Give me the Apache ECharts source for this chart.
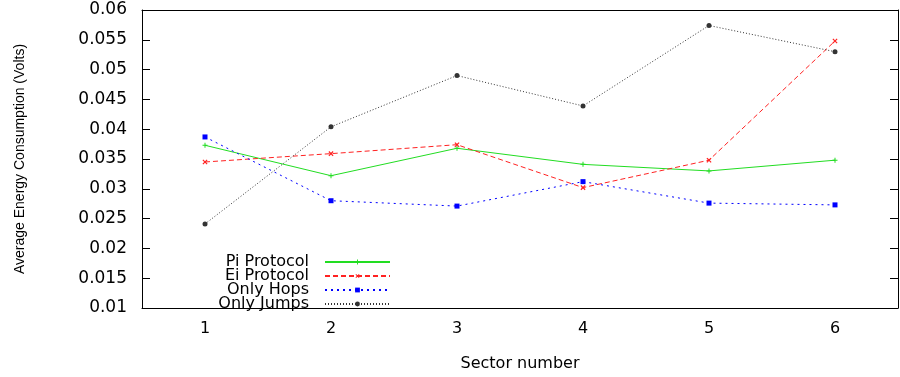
<!DOCTYPE html>
<html>
<head>
<meta charset="utf-8">
<title>Average Energy Consumption per Sector</title>
<script src="https://cdn.jsdelivr.net/npm/echarts@6/dist/echarts.min.js"></script>
<style>
  html, body { margin: 0; padding: 0; background: #fff; }
  #chart { width: 900px; height: 377px; }
</style>
</head>
<body>
<div id="chart"></div>
<script>
// Sector numbers on the x axis
const sectors = ['1', '2', '3', '4', '5', '6'];

// Average energy consumption (Volts) per sector for each protocol
const piProtocol = [0.0373, 0.0322, 0.0368, 0.0341, 0.0330, 0.0348];
const eiProtocol = [0.0345, 0.0359, 0.0374, 0.0302, 0.0348, 0.0548];
const onlyHops   = [0.0387, 0.0280, 0.0271, 0.0312, 0.0276, 0.0273];
const onlyJumps  = [0.0241, 0.0404, 0.0490, 0.0439, 0.0574, 0.0530];

const seriesNames = ['Pi Protocol', 'Ei Protocol', 'Only Hops', 'Only Jumps'];

// Y axis range and step
const yMin = 0.01, yMax = 0.06, yStep = 0.005;

const FONT = 'DejaVu Sans';
const plusPath = 'path://M4,0h2v4h4v2h-4v4h-2v-4h-4v-2h4z';

// One legend per row so the names stay right-aligned against their line samples
function legendFor(name, rowCenter) {
  return {
    data: [name],
    right: 509,
    top: rowCenter - 7,
    orient: 'vertical',
    align: 'right',
    padding: 0,
    itemWidth: 65,
    itemHeight: 6,
    selectedMode: false,
    textStyle: { fontFamily: FONT, fontSize: 16, color: '#000', padding: [0, 11, 0, 0] }
  };
}

const chart = echarts.init(document.getElementById('chart'), null, { renderer: 'canvas' });

chart.setOption({
  animation: false,
  backgroundColor: '#fff',
  grid: { left: 142, right: 2, top: 10, bottom: 63, containLabel: false },
  legend: [
    legendFor(seriesNames[0], 261),
    legendFor(seriesNames[1], 275),
    legendFor(seriesNames[2], 289),
    legendFor(seriesNames[3], 303)
  ],
  xAxis: [
    {
      type: 'category',
      data: sectors,
      boundaryGap: true,
      name: 'Sector number',
      nameLocation: 'middle',
      nameGap: 48,
      nameTextStyle: { fontFamily: FONT, fontSize: 16, color: '#000' },
      axisLine: { lineStyle: { color: '#000', width: 1 } },
      axisTick: { inside: true, length: 7, alignWithLabel: true, lineStyle: { color: '#000' } },
      axisLabel: { fontFamily: FONT, fontSize: 16, color: '#000', margin: 13 },
      splitLine: { show: false }
    },
    {
      type: 'category',
      data: sectors,
      position: 'top',
      boundaryGap: true,
      axisLine: { lineStyle: { color: '#000', width: 1 } },
      axisTick: { inside: true, length: 7, alignWithLabel: true, lineStyle: { color: '#000' } },
      axisLabel: { show: false },
      splitLine: { show: false }
    }
  ],
  yAxis: [
    {
      type: 'value',
      min: yMin,
      max: yMax,
      interval: yStep,
      name: 'Average Energy Consumption (Volts)',
      nameLocation: 'middle',
      nameGap: 115,
      nameTextStyle: { fontFamily: 'Liberation Sans', fontSize: 14, color: '#000' },
      axisLine: { show: true, lineStyle: { color: '#000', width: 1 } },
      axisTick: { show: true, inside: true, length: 8, lineStyle: { color: '#000' } },
      axisLabel: { fontFamily: FONT, fontSize: 17, color: '#000', margin: 15 },
      splitLine: { show: false }
    },
    {
      type: 'value',
      min: yMin,
      max: yMax,
      interval: yStep,
      position: 'right',
      axisLine: { show: true, lineStyle: { color: '#000', width: 1 } },
      axisTick: { show: true, inside: true, length: 8, lineStyle: { color: '#000' } },
      axisLabel: { show: false },
      splitLine: { show: false }
    }
  ],
  series: [
    {
      name: seriesNames[0],
      type: 'line',
      data: piProtocol,
      symbol: plusPath,
      symbolSize: 5,
      color: '#22dd22',
      lineStyle: { width: 1, type: 'solid', color: '#22dd22' },
      itemStyle: { color: '#22dd22' }
    },
    {
      name: seriesNames[1],
      type: 'line',
      data: eiProtocol,
      symbol: plusPath,
      symbolRotate: 45,
      symbolSize: 6,
      color: '#ff2222',
      lineStyle: { width: 1, type: [5, 3], color: '#ff2222' },
      itemStyle: { color: '#ff2222' }
    },
    {
      name: seriesNames[2],
      type: 'line',
      data: onlyHops,
      symbol: 'rect',
      symbolSize: 5,
      color: '#0000ff',
      lineStyle: { width: 1, type: [2, 4], color: '#0000ff' },
      itemStyle: { color: '#0000ff' }
    },
    {
      name: seriesNames[3],
      type: 'line',
      data: onlyJumps,
      symbol: 'circle',
      symbolSize: 5,
      color: '#333333',
      lineStyle: { width: 1, type: [1, 2], color: '#333333' },
      itemStyle: { color: '#333333' }
    }
  ]
});
</script>
</body>
</html>
